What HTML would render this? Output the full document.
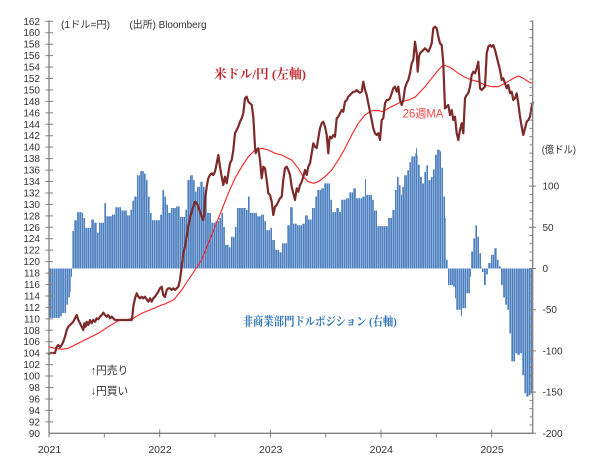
<!DOCTYPE html>
<html><head><meta charset="utf-8">
<style>
html,body{margin:0;padding:0;background:#fff;}
svg{display:block;}
.t{font-family:"Liberation Sans",sans-serif;font-size:10px;fill:#333;}
.j{font-family:"Liberation Sans","Noto Sans CJK JP",sans-serif;fill:#333;}
.m{font-family:"Liberation Serif","Noto Serif CJK SC",serif;}
</style></head>
<body>
<svg width="604" height="460" viewBox="0 0 604 460" xmlns="http://www.w3.org/2000/svg">
<defs>
<pattern id="bp" x="49.5" y="0" width="2.13" height="10" patternUnits="userSpaceOnUse">
<rect x="0" y="0" width="1.75" height="10" fill="#4a7ebf"/>
</pattern>
</defs>
<rect width="604" height="460" fill="#fff"/>

<!-- bars -->
<path fill="url(#bp)" d="M49,268.5 V317.9 H60 V316.3 H62 V313 H66 V304.8 H68 V297.4 H70 V291.7 H71 V276.9 H72 V231 H74 V220.3 H77 V212.1 H82 V212.9 H83 V217.9 H85 V227.7 H91 V219.5 H94 V222.8 H97 V232.6 H99 V222.8 H104 V203.1 H106 V216.2 H112 V214.6 H115 V207.2 H121 V210.5 H127 V215.4 H130 V209.7 H132 V200.6 H134 V196.5 H137 V175.2 H140 V171.1 H144 V173.6 H146 V180.1 H148 V196.5 H150 V212.9 H152 V220.3 H160 V214.6 H162 V190 H164 V196.5 H166 V204.7 H168 V212.9 H171 V208 H176 V206.4 H180 V217 H185 V209.7 H187 V180.1 H190 V175.2 H193 V180.1 H195 V191.6 H197 V186.7 H200 V181.8 H203 V186.7 H205 V190 H207 V212.9 H211 V222.8 H215 V221.1 H219 V217.9 H221 V212.9 H223 V226.9 H225 V244.9 H229 V247.4 H231 V236.7 H235 V226.9 H237 V208 H246 V209.7 H248 V196.5 H250 V212.9 H257 V216.2 H261 V214.6 H264 V221.1 H266 V230.2 H270 V227.7 H272 V240 H275 V249.8 H279 V252.3 H282 V243.3 H287 V225.2 H290 V207.2 H293 V223.6 H297 V225.2 H302 V223.6 H305 V215.4 H308 V219.5 H312 V208 H315 V196.5 H317 V190 H321 V188.4 H324 V183.4 H330 V199.8 H332 V212.1 H336 V208 H339 V212.1 H341 V199.8 H346 V198.2 H349 V192.4 H353 V188.4 H356 V198.2 H362 V196.5 H365 V179.3 H366 V194.9 H372 V199.8 H374 V210.5 H377 V226.1 H388 V217.9 H392 V209.7 H395 V190 H397 V176.9 H399 V185.1 H401 V194.9 H402 V186.7 H404 V175.2 H407 V170.3 H409 V162.1 H411 V156.4 H415 V153.1 H416 V148.2 H417 V155.5 H418 V164.6 H420 V176.9 H422 V183.4 H424 V171.9 H426 V165.4 H428 V180.1 H431 V176.9 H433 V169.5 H435 V154.7 H437 V149.8 H440 V151.4 H441 V167.8 H443 V196.5 H445 V217.9 H446 V259.7 H448 V285.1 H453 V286.7 H455 V298.2 H456 V309.7 H461 V316.3 H462 V308.1 H466 V293.3 H470 V276.9 H471 V251.5 H473 V238.4 H475 V225.2 H477 V236.7 H479 V253.1 H481 V267.1 H482 V272 H484 V285.1 H486 V274.4 H488 V263 H491 V254.8 H494 V248.2 H497 V259.7 H499 V266.2 H501 V285.1 H503 V297.4 H505 V304.8 H507 V309.7 H509 V333.5 H511 V361.4 H515 V353.2 H517 V354.8 H520 V353.2 H522 V375.3 H524 V393.3 H526 V396.6 H529 V395 H531 V393.3 H532 V268.5 Z"/>

<!-- 26 week MA -->
<polyline fill="none" stroke="#ff2020" stroke-width="1.1" stroke-linejoin="round" points="48.3,346.7 55,348.3 61.7,349.3 68.3,348.3 78.3,343.3 88.3,338.3 98.3,333.3 108.3,326.7 118.3,320.7 128.3,319.3 133.3,318.3 141.7,313.3 151.7,309.3 161.7,305 165,304 173.3,300 175,298.3 181.7,290 188.3,280 195,270 201.7,260 208.3,243.3 215,226.7 221.7,210 228.3,193.3 235,178.3 241.7,166.7 248.3,156.7 255,150 261.7,148.3 268.3,150 275,153.3 281.7,155 285,156.7 291.7,160 298.3,168.3 303.3,176.7 308.3,181.7 313.3,183.3 318.3,181.7 325,176.7 331.7,170 338.3,160 345,148.3 351.7,135 358.3,123.3 365,115 371.7,110.7 378.3,110.7 383.3,111.7 388.3,108.3 395,105 401.7,101.7 408.3,100 415,97.3 425,86.7 431.7,78.3 438.3,70 443.3,65 446.7,66 451.7,68.3 458.3,73.3 465,77.3 471.7,80 478.3,81.7 485,85 491.7,86.7 498.3,86.7 505,83.3 511.7,79.3 518.3,76 523.3,78.3 528.3,81.7 532,83.3"/>

<!-- USD/JPY -->
<polyline fill="none" stroke="#7d2a2a" stroke-width="2.2" stroke-linejoin="round" points="48.3,355 50,353 55,353 56.7,346.7 58.3,345 60,347.3 61.7,345 63.3,341.7 65,336.7 66.7,330 68.3,326.7 70,325 71.7,323.3 73.3,321.7 75,318.3 76.7,315 78.3,320 80,323.3 81.7,326.7 83.3,330 84.3,323.3 85.7,326.7 86.7,321.7 88.3,325 90,320 91.7,323.3 93.3,320 95,321.7 96.7,318.3 98.3,319.3 100,316.7 101.7,315 103.3,312.7 105,315 106.7,316.7 108.3,315 110,318.3 111.7,316.7 113.3,318.3 115,320 118,320 131.7,320 132.3,316.7 133.3,306.7 135,298.3 136.7,293.3 138.3,296.7 140,298.3 141.7,296.7 143.3,298.3 145,296.7 146.7,299.3 148.3,301.7 150,298.3 151.7,301.7 153.3,298.3 155,296.7 158.3,291.7 160,288.3 161.7,286.7 163.3,295 165,297 166.7,290 168.3,288.3 170,288.3 171.7,290 173.3,288.3 175,290 176.7,288.3 178.3,286.7 180,280 181.7,266.7 183.3,253 185,246.7 186.7,236.7 188.3,226.7 190,218 191.7,211.7 193.3,206.7 195,201.7 196.7,203.3 198.3,206.7 200,211.7 201.7,216.7 203.3,220 204.3,213 205,200 206.7,186.7 208.3,178.3 210,175 211.7,173.3 213.3,175 215,171.7 216.7,163.3 218.3,155 220,166.7 221.7,176.7 223.3,185 225,176.7 226.7,183.3 228.3,173.3 230,163.3 231.7,160 233.3,150 235,133.3 236.7,130 238.3,126.7 240,121.7 241.7,118.3 243.3,113.3 245,98.3 246.7,96.7 248.3,101.7 250,103.3 251.7,105 253.3,116.7 255,146.7 255.7,153.3 256.7,150 258.3,148.3 260,160 261.7,178.3 263.3,166.7 265,168.3 266.7,180 268.3,193.3 270,195 271.7,201.7 273.3,215 275,206.7 276.7,205 278.3,201.7 280,198.3 281.7,196.7 283.3,180 285,168.3 286.7,166.7 288.3,170 290,175 291.7,186.7 293.3,193.3 295,200 296.7,188.3 298.3,191.7 300,185 301.7,181.7 303.3,176.7 305,170 306.7,175 308.3,166.7 310,163.3 311.7,153.3 313.3,143.3 315,146.7 316.7,148 318.3,138.3 320,128.3 321.7,123.3 323.3,121.7 325,126.7 326.7,135 328.3,153.3 329.3,140 330,136.7 331.7,138.3 333.3,135 335,136.7 336.7,118.3 338.3,116.7 340,113.3 341.7,110 343.3,111.7 345,101.7 346.7,100 348.3,96.7 350,95 351.7,93.3 353.3,91.7 355,91.7 356.7,90 358.3,91.7 360,92.7 361.7,91.7 363.3,81.7 365,90 366.7,95 368.3,103.3 370,111.7 371.7,120 373.3,128.3 375,133.3 376.7,135 378.3,133.3 380,140 381.7,120 383.3,118.3 385,103.3 386.7,100 388.3,100 390,98.3 391.7,93.3 393.3,88.3 395,86.7 396.7,91.7 398.3,86.7 400,100 401.7,105 403.3,100 405,88 406.7,83 408.3,80 410,73.3 411.7,63.3 413.3,60 415,41.7 416.7,53.3 417.7,71.7 419,56.7 420,53.3 421.7,51.7 423.3,50 425,48.3 426.7,50 428.3,51.7 430,48.3 431.7,43.3 433.3,28.3 435,26.7 436.7,28.3 438.3,36.7 440,43.3 441.7,45 443.3,63.3 445,108.3 446.7,106.7 448.3,105 450,115 451.7,110 453.3,120 455,116.7 456.7,133.3 458.3,140 460,130 461.7,123.3 463.3,133.3 465,98.3 466.7,95 468.3,93.3 470,86.7 471.7,75 473.3,71.7 475,73.3 476.7,68.3 478.3,61.7 480,88.3 481.7,90 483.3,88.3 485,86.7 486.7,53.3 488.3,46.7 490,45 491.7,46.7 493.3,45 495,50 496.7,56.7 498.3,63.3 500,70 501.7,80 503.3,78.3 505,83.3 506.7,88.3 508.3,85 510,93.3 511.7,91.7 513.3,100 515,98.3 516.7,93.3 518.3,103.3 520,116.7 521.7,126.7 523.3,135 525,128.3 526.7,121.7 528.3,120 530,116.7 531.7,106.7 533,101.7"/>

<!-- axes -->
<g stroke="#7f7f7f" stroke-width="1.3" fill="none">
<line x1="49" y1="20.5" x2="49" y2="433.3"/>
<line x1="49" y1="433.3" x2="532.7" y2="433.3"/>
<line x1="532.7" y1="20.5" x2="532.7" y2="433.3"/>
</g>
<!-- left ticks -->
<path stroke="#7f7f7f" stroke-width="1" d="M45.5,21.3H53 M45.5,32.74H53 M45.5,44.19H53 M45.5,55.63H53 M45.5,67.08H53 M45.5,78.52H53 M45.5,89.96H53 M45.5,101.41H53 M45.5,112.85H53 M45.5,124.3H53 M45.5,135.74H53 M45.5,147.18H53 M45.5,158.63H53 M45.5,170.07H53 M45.5,181.52H53 M45.5,192.96H53 M45.5,204.4H53 M45.5,215.85H53 M45.5,227.29H53 M45.5,238.74H53 M45.5,250.18H53 M45.5,261.62H53 M45.5,273.07H53 M45.5,284.51H53 M45.5,295.96H53 M45.5,307.4H53 M45.5,318.84H53 M45.5,330.29H53 M45.5,341.73H53 M45.5,353.18H53 M45.5,364.62H53 M45.5,376.06H53 M45.5,387.51H53 M45.5,398.95H53 M45.5,410.4H53 M45.5,421.84H53"/>
<!-- right minor ticks (every 10) -->
<path stroke="#7f7f7f" stroke-width="1" d="M529.5,21.3H532.7 M529.5,29.54H532.7 M529.5,37.78H532.7 M529.5,46.02H532.7 M529.5,54.26H532.7 M529.5,62.5H532.7 M529.5,70.74H532.7 M529.5,78.98H532.7 M529.5,87.22H532.7 M529.5,95.46H532.7 M529.5,103.7H532.7 M529.5,111.94H532.7 M529.5,120.18H532.7 M529.5,128.42H532.7 M529.5,136.66H532.7 M529.5,144.9H532.7 M529.5,153.14H532.7 M529.5,161.38H532.7 M529.5,169.62H532.7 M529.5,177.86H532.7 M529.5,194.34H532.7 M529.5,202.58H532.7 M529.5,210.82H532.7 M529.5,219.06H532.7 M529.5,235.54H532.7 M529.5,243.78H532.7 M529.5,252.02H532.7 M529.5,260.26H532.7 M529.5,276.74H532.7 M529.5,284.98H532.7 M529.5,293.22H532.7 M529.5,301.46H532.7 M529.5,317.94H532.7 M529.5,326.18H532.7 M529.5,334.42H532.7 M529.5,342.66H532.7 M529.5,359.14H532.7 M529.5,367.38H532.7 M529.5,375.62H532.7 M529.5,383.86H532.7 M529.5,400.34H532.7 M529.5,408.58H532.7 M529.5,416.82H532.7 M529.5,425.06H532.7"/>
<!-- right major ticks -->
<path stroke="#7f7f7f" stroke-width="1" d="M529,186.1H536 M529,227.3H536 M529,268.5H536 M529,309.7H536 M529,350.9H536 M529,392.1H536 M529,433.3H536"/>
<!-- x ticks -->
<path stroke="#7f7f7f" stroke-width="1" d="M49,429.5V437.5 M159.7,429.5V437.5 M270.4,429.5V437.5 M381,429.5V437.5 M491.7,429.5V437.5 M104.3,433.3V437.5 M215,433.3V437.5 M325.7,433.3V437.5 M436.4,433.3V437.5"/>

<!-- left labels -->
<g class="t" text-anchor="end">
<text x="40" y="24.8">162</text><text x="40" y="36.2">160</text><text x="40" y="47.7">158</text><text x="40" y="59.1">156</text><text x="40" y="70.6">154</text><text x="40" y="82">152</text><text x="40" y="93.5">150</text><text x="40" y="104.9">148</text><text x="40" y="116.4">146</text><text x="40" y="127.8">144</text><text x="40" y="139.2">142</text><text x="40" y="150.7">140</text><text x="40" y="162.1">138</text><text x="40" y="173.6">136</text><text x="40" y="185">134</text><text x="40" y="196.5">132</text><text x="40" y="207.9">130</text><text x="40" y="219.4">128</text><text x="40" y="230.8">126</text><text x="40" y="242.2">124</text><text x="40" y="253.7">122</text><text x="40" y="265.1">120</text><text x="40" y="276.6">118</text><text x="40" y="288">116</text><text x="40" y="299.5">114</text><text x="40" y="310.9">112</text><text x="40" y="322.3">110</text><text x="40" y="333.8">108</text><text x="40" y="345.2">106</text><text x="40" y="356.7">104</text><text x="40" y="368.1">102</text><text x="40" y="379.6">100</text><text x="40" y="391">98</text><text x="40" y="402.5">96</text><text x="40" y="413.9">94</text><text x="40" y="425.3">92</text><text x="40" y="436.8">90</text>
</g>
<!-- right labels -->
<g class="t">
<text x="542.5" y="189.6">100</text>
<text x="542.5" y="230.8">50</text>
<text x="542.5" y="272">0</text>
<text x="542.5" y="313.2">-50</text>
<text x="542.5" y="354.4">-100</text>
<text x="542.5" y="395.6">-150</text>
<text x="542.5" y="436.8">-200</text>
</g>
<!-- year labels -->
<g class="t" text-anchor="middle" style="font-size:10.5px">
<text x="49.5" y="453">2021</text>
<text x="160" y="453">2022</text>
<text x="270.7" y="453">2023</text>
<text x="381.3" y="453">2024</text>
<text x="492" y="453">2025</text>
</g>

<!-- annotations -->
<text class="j" x="61" y="27.8" style="font-size:10px" textLength="49" lengthAdjust="spacingAndGlyphs">(1ドル=円)</text>
<text class="j" x="129.5" y="27.8" style="font-size:10px" textLength="77" lengthAdjust="spacingAndGlyphs">(出所) Bloomberg</text>
<text class="j" x="541.7" y="153" style="font-size:10.5px" textLength="34.3" lengthAdjust="spacingAndGlyphs">(億ドル)</text>
<text class="m" x="214" y="78.5" style="font-size:13px;font-weight:bold" fill="#c0262d" textLength="92" lengthAdjust="spacingAndGlyphs">米ドル/円 (左軸)</text>
<text class="j" x="402.7" y="117.4" style="font-size:11.5px;fill:#ff4444" textLength="40.6" lengthAdjust="spacingAndGlyphs">26週MA</text>
<text class="m" x="242.7" y="325.5" style="font-size:12px;font-weight:bold" fill="#2e74b5" textLength="154" lengthAdjust="spacingAndGlyphs">非商業部門ドルポジション (右軸)</text>
<text class="j" x="90.7" y="374" style="font-size:11px" textLength="37.6" lengthAdjust="spacingAndGlyphs">↑円売り</text>
<text class="j" x="90.7" y="394.7" style="font-size:11px" textLength="37.6" lengthAdjust="spacingAndGlyphs">↓円買い</text>
</svg>
</body></html>
